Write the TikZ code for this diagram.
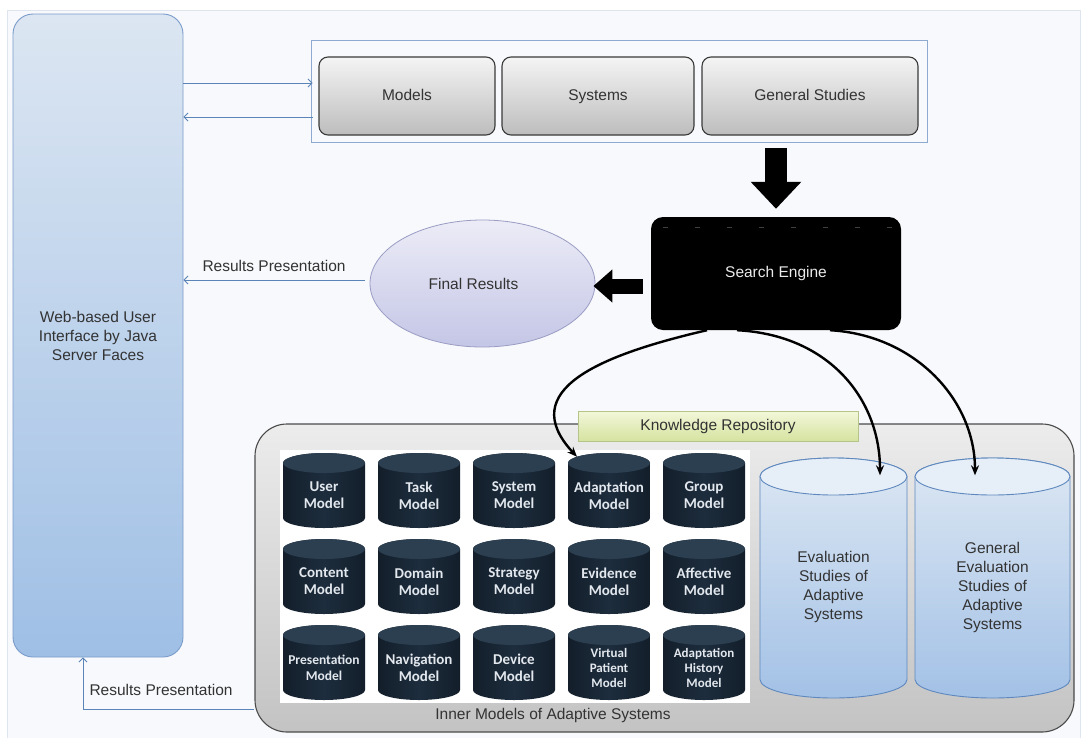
\documentclass[tikz,border=0pt]{standalone}
\usepackage{fontspec}
\setmainfont{Liberation Sans}
\newfontfamily\calfont{Carlito}
\usetikzlibrary{arrows.meta,calc,shapes.geometric}

\definecolor{pagebg}{HTML}{F8F9FC}
\definecolor{framecol}{HTML}{DFE5EE}
\definecolor{txt}{HTML}{333333}
\definecolor{uitop}{HTML}{DCE6F2}
\definecolor{uibot}{HTML}{9FBFE5}
\definecolor{uidraw}{HTML}{7A9CCB}
\definecolor{linkblue}{HTML}{5B84B9}
\definecolor{contdraw}{HTML}{8FAAD0}
\definecolor{boxtop}{HTML}{F4F4F4}
\definecolor{boxbot}{HTML}{BDBDBD}
\definecolor{boxdraw}{HTML}{3A3A3A}
\definecolor{elltop}{HTML}{ECECF7}
\definecolor{ellbot}{HTML}{C4C6E6}
\definecolor{elldraw}{HTML}{9A9CC4}
\definecolor{grptop}{HTML}{ECECEC}
\definecolor{grpbot}{HTML}{C3C3C3}
\definecolor{grpdraw}{HTML}{4A4A4A}
\definecolor{krtop}{HTML}{F3F7DA}
\definecolor{krbot}{HTML}{D5E3A0}
\definecolor{krdraw}{HTML}{B5C58A}
\definecolor{evtop}{HTML}{DCE7F3}
\definecolor{evbot}{HTML}{A3C1E6}
\definecolor{evcap}{HTML}{E6EEF7}
\definecolor{evdraw}{HTML}{5E88BE}
\definecolor{dbside}{HTML}{131E2A}
\definecolor{dbmid}{HTML}{1D2D3D}
\definecolor{dbcap}{HTML}{2C3F51}
\definecolor{dbtxt}{HTML}{E3E8EE}

% dark database cylinder: [extra style], name, centre x, top y, label
\newcommand{\dbcyl}[5][]{%
  \shade[left color=dbside, right color=dbside, middle color=dbmid]
    (#3-41,#4+10) -- (#3-41,#4+65)
    arc[start angle=180,end angle=360,x radius=41pt,y radius=10pt]
    -- (#3+41,#4+10)
    arc[start angle=0,end angle=180,x radius=41pt,y radius=10pt] -- cycle;
  \fill[dbcap] (#3,#4+10) ellipse[x radius=41pt,y radius=10pt];
  \node[dbtext,#1] (#2) at (#3,#4+42.5) {#5};
}
% light evaluation-study cylinder: name, centre x, half width, label
\newcommand{\evcyl}[4]{%
  \shadedraw[top color=evtop, bottom color=evbot, draw=evdraw, line width=0.9pt]
    (#2-#3,476.5) -- (#2-#3,679.5)
    arc[start angle=180,end angle=360,x radius=#3pt,y radius=18.5pt]
    -- (#2+#3,476.5)
    arc[start angle=0,end angle=180,x radius=#3pt,y radius=18.5pt] -- cycle;
  \filldraw[fill=evcap, draw=evdraw, line width=0.9pt]
    (#2,476.5) ellipse[x radius=#3pt,y radius=18.5pt];
  \node[evtext, minimum width=2*#3pt] (#1) at (#2,587.25) {#4};
}

\begin{document}
\begin{tikzpicture}[x=1pt,y=-1pt,
  basefont/.style={font=\fontsize{15.5}{19}\selectfont, text=txt},
  uibox/.style={basefont, rounded corners=20pt, top color=uitop, bottom color=uibot,
    draw=uidraw, line width=0.9pt, align=center},
  catbox/.style={basefont, rounded corners=9pt, top color=boxtop, bottom color=boxbot,
    draw=boxdraw, line width=1.1pt, minimum height=78pt,
    text height=11.5pt, text depth=3.5pt},
  engine/.style={basefont, text=white!92!black, fill=black, rounded corners=12pt,
    minimum width=250pt, minimum height=113pt},
  result/.style={basefont, ellipse, inner sep=0pt, top color=elltop, bottom color=ellbot,
    draw=elldraw, line width=0.8pt, minimum width=225pt, minimum height=127pt},
  group/.style={rounded corners=32pt, top color=grptop, bottom color=grpbot,
    draw=grpdraw, line width=1.1pt},
  krbox/.style={basefont, top color=krtop, bottom color=krbot, draw=krdraw,
    line width=0.8pt, minimum width=280pt, minimum height=30pt},
  dbtext/.style={font=\calfont\bfseries\fontsize{15}{16.8}\selectfont, text=dbtxt,
    align=center, inner sep=0pt, minimum width=82pt, minimum height=65pt},
  dbwide/.style={font=\calfont\bfseries\fontsize{13.5}{16}\selectfont},
  dbsmall/.style={font=\calfont\bfseries\fontsize{13}{15}\selectfont},
  evtext/.style={basefont, align=center, inner sep=0pt, minimum height=221.5pt},
  link/.style={draw=linkblue, line width=0.9pt},
  linkarrow/.style={link, -{Straight Barb[length=4pt,width=8pt]}},
  curvearrow/.style={draw=black, line width=2.4pt, -{Stealth[length=10pt,width=8pt]}},
]
\useasboundingbox (0,0) rectangle (1081,737);
\fill[white] (0,0) rectangle (1081,737);
\begin{scope}
  \clip (0,0) rectangle (1081,737);
  \filldraw[fill=pagebg, draw=framecol, line width=1pt] (7,10) rectangle (1080,745);
\end{scope}

% user interface column
\node[uibox, minimum width=170pt, minimum height=643pt] (ui) at (98,335.5)
  {Web-based User\\Interface by Java\\Server Faces};

% search categories
\node[draw=contdraw, line width=0.8pt, minimum width=616pt, minimum height=102pt] (cont) at (619,91) {};
\node[catbox, minimum width=176pt] (models) at (407,96) {Models};
\node[catbox, minimum width=192pt] (systems) at (598,96) {Systems};
\node[catbox, minimum width=216pt] (general) at (810,96) {General Studies};

% search engine and results
\node[engine] (se) at (776,273.5) {Search Engine};
\draw[dash pattern=on 5pt off 27pt, draw=black!75, line width=1pt]
  ([xshift=12pt,yshift=-11pt]se.north west) -- ([xshift=-8pt,yshift=-11pt]se.north east);
\node[result] (fin) at (482.5,283.5) {Final Results\hspace*{18pt}};

% knowledge repository
\node[group, minimum width=819pt, minimum height=308pt] (grp) at (664.5,578) {};
\node[fill=white, minimum width=470pt, minimum height=253pt] (panel) at (515,576.5) {};
\node[krbox] (kr) at (718,426) {Knowledge Repository};
\node[basefont] (inner) at (553,715) {Inner Models of Adaptive Systems};

\dbcyl{user}{324}{453}{User\\Model}
\dbcyl{task}{419}{453}{Task\\Model}
\dbcyl{system}{514}{453}{System\\Model}
\dbcyl{adapt}{609}{453}{Adaptation\\Model}
\dbcyl{groupm}{704}{453}{Group\\Model}
\dbcyl{content}{324}{539}{Content\\Model}
\dbcyl{domain}{419}{539}{Domain\\Model}
\dbcyl{strategy}{514}{539}{Strategy\\Model}
\dbcyl{evidence}{609}{539}{Evidence\\Model}
\dbcyl{affective}{704}{539}{Affective\\Model}
\dbcyl[dbwide]{present}{324}{625}{Presentation\\Model}
\dbcyl{navig}{419}{625}{Navigation\\Model}
\dbcyl{device}{514}{625}{Device\\Model}
\dbcyl[dbsmall]{virtual}{609}{625}{Virtual\\Patient\\Model}
\dbcyl[dbsmall]{history}{704}{625}{Adaptation\\History\\Model}

\evcyl{ev1}{833.5}{73.5}{Evaluation\\Studies of\\Adaptive\\Systems}
\evcyl{ev2}{992.5}{77.5}{General\\Evaluation\\Studies of\\Adaptive\\Systems}

% connectors
\coordinate (a1) at ([yshift=8pt]cont.west);
\coordinate (a2) at ([yshift=-26pt]cont.west);
\draw[linkarrow] (ui.east |- a1) -- ([xshift=2pt]a1);
\draw[linkarrow] ([xshift=2pt]a2) -- (ui.east |- a2);

\coordinate (a3) at ([xshift=-5pt,yshift=3.5pt]fin.west);
\draw[linkarrow] (a3) -- (ui.east |- a3)
  node[basefont, pos=0.5, above=5pt] (rp1) {Results Presentation};

\coordinate (yb) at (0,709);
\draw[linkarrow] (grp.west |- yb) -| ([xshift=-15pt]ui.south);
\node[basefont, anchor=west] (rp2) at (86,690) {Results Presentation};

\draw[line width=22pt, -{Triangle[width=49pt,length=27pt]}, shorten <=6pt, shorten >=8pt]
  (cont.south -| se.north) -- (se.north);
\coordinate (sa) at ([xshift=-8pt,yshift=-12.5pt]se.west);
\draw[line width=15pt, -{Triangle[width=32pt,length=19pt]}] (sa) -- ([xshift=-2pt]fin.east |- sa);

\draw[curvearrow] ([xshift=-69pt]se.south) .. controls (600,355) and (515,390) ..
  ([xshift=-32pt,yshift=6pt]adapt.north);
\draw[curvearrow] ([xshift=-39pt]se.south) .. controls (830,335) and (880,400) ..
  ([xshift=46.5pt,yshift=1pt]ev1.north);
\draw[curvearrow] ([xshift=54pt]se.south) .. controls (915,335) and (975,400) ..
  ([xshift=-17.5pt,yshift=1pt]ev2.north);
\end{tikzpicture}
\end{document}
